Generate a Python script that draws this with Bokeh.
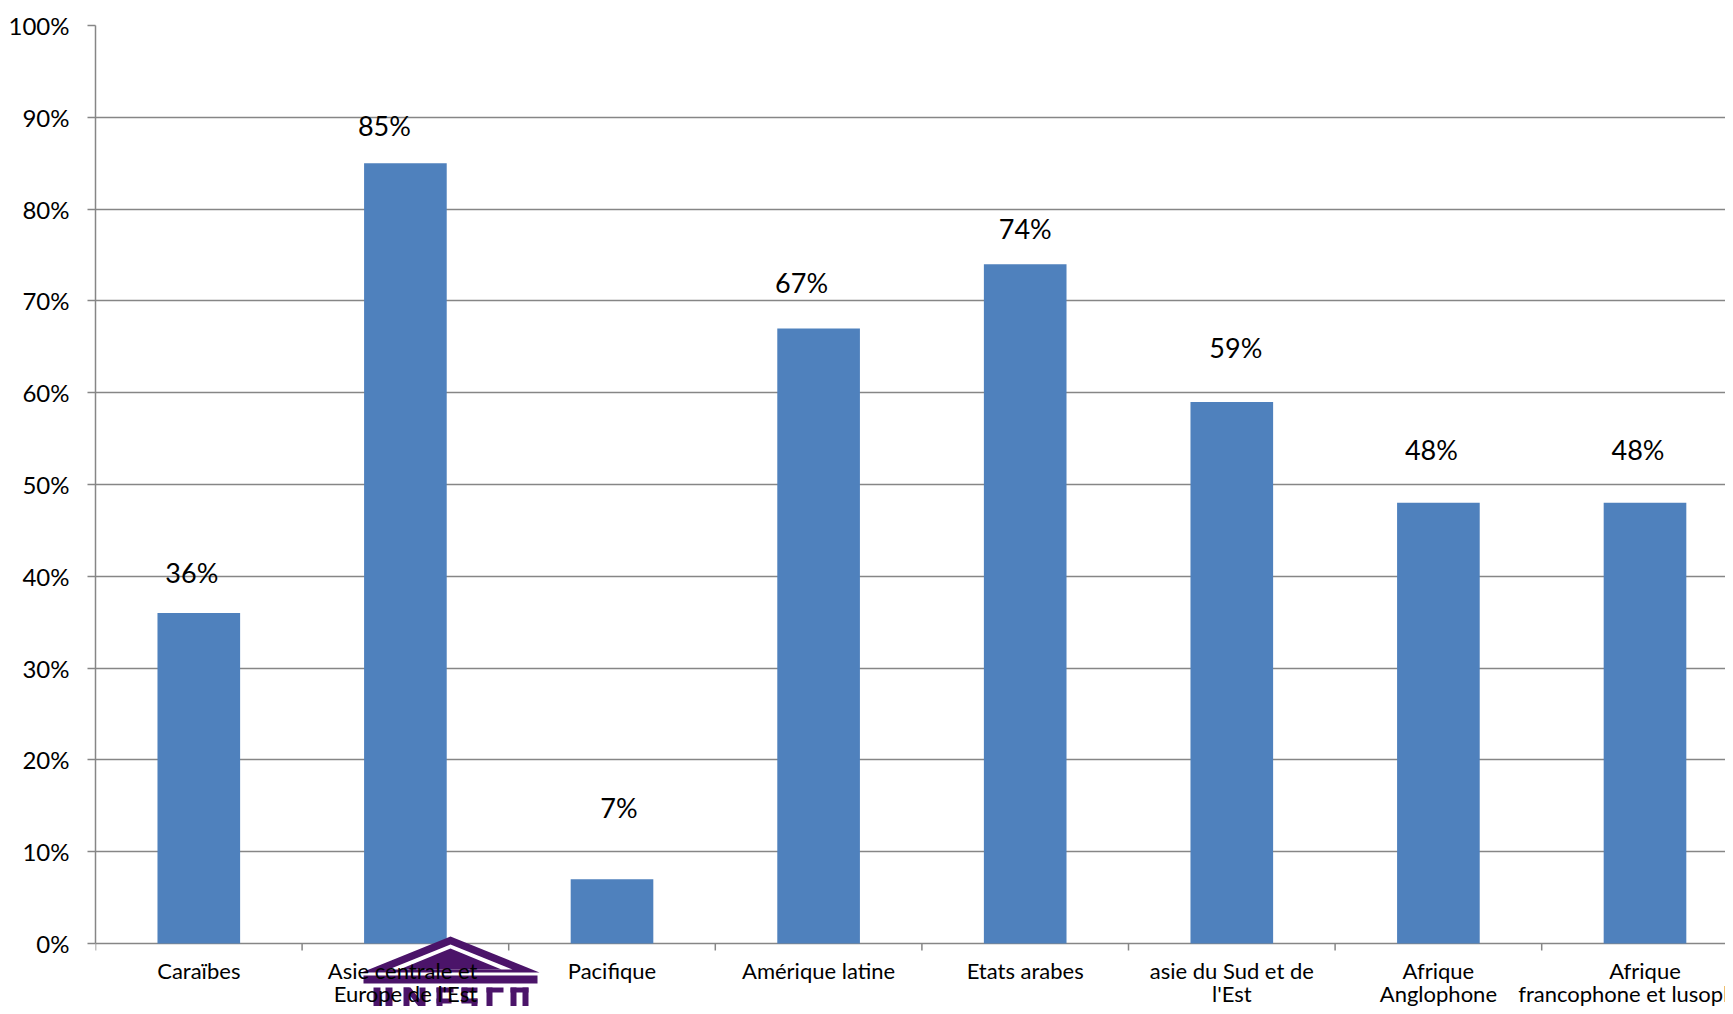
from bokeh.plotting import figure
from bokeh.models import Range1d, FixedTicker, PrintfTickFormatter, ColumnDataSource
from bokeh.core.properties import value
from bokeh.embed import file_html
from bokeh.resources import INLINE

categories = ["Caraïbes", "Asie centrale  et\nEurope de l'Est", "Pacifique", "Amérique latine",
              "Etats arabes", "asie du Sud et de\nl'Est", "Afrique\nAnglophone",
              "Afrique\nfrancophone et lusophone"]
values = [36, 85, 7, 67, 74, 59, 48, 48]
value_labels = ["36%", "85%", "7%", "67%", "74%", "59%", "48%", "48%"]
y_ticks = [0, 10, 20, 30, 40, 50, 60, 70, 80, 90, 100]

# data-label nudges (pixels) as placed in the original
label_dx = [-7, -21, 7, -17, 0, 4, -7, -7]
label_dy = [41, 38, 72, 46, 36, 54, 53, 53]

# ---- layout (pixels) ----
W, H = 1725, 1006
LEFT, TOP = 95, 25
PLOT_H = 918            # height of 0..100 %
CAT_W = 206.6           # width of one category
PX = PLOT_H / 100.0     # pixels per percentage point
Y_MIN = -(H - TOP - PLOT_H) / PX

GRID = "#868686"
FONT = "Lato"
LOGO = "#4B1469"

xs = [i + 0.5 for i in range(len(categories))]
bounds = list(range(len(categories) + 1))

src = ColumnDataSource(dict(x=xs, top=values, lab=value_labels,
                            dx=label_dx, dy=[-d for d in label_dy]))

p = figure(width=W, height=H, output_backend="svg", toolbar_location=None,
           x_range=Range1d(0, (W - LEFT) / CAT_W), y_range=Range1d(Y_MIN, 100))
p.min_border_left = LEFT
p.min_border_right = 0
p.min_border_top = TOP
p.min_border_bottom = 0
p.outline_line_color = None
p.background_fill_color = "white"
p.border_fill_color = "white"

p.vbar(x="x", top="top", width=0.4, bottom=0, source=src, fill_color="#4F81BD", line_color=None)

# category tick marks (at category boundaries, below the 0 line)
p.segment(x0=bounds, y0=[0] * len(bounds), x1=bounds, y1=[-7 / PX] * len(bounds),
          line_color=GRID, line_width=1.5)


# ---- UNESCO logo watermark (decoration, given in pixels) ----
def to_data(pts):
    return ([(x - LEFT) / CAT_W for x, _ in pts], [(TOP + PLOT_H - y) / PX for _, y in pts])


def rect(x0, y0, x1, y1):
    return [(x0, y0), (x1, y0), (x1, y1), (x0, y1)]


logo_dark = [
    [(361, 972), (450, 936), (539, 972)],
    rect(363, 975, 537, 983),
    # U
    rect(373, 987, 380, 1010), rect(385, 987, 392, 1010),
    # N
    rect(403, 987, 409, 1010), rect(419, 987, 425, 1010),
    [(403, 987), (410, 987), (425, 1006), (418, 1006)],
    # E
    rect(436, 987, 442, 1010), rect(436, 987, 453, 992), rect(436, 998, 451, 1003),
    # S
    rect(461, 987, 477, 992), rect(461, 987, 467, 1002), rect(461, 998, 477, 1003),
    rect(471, 998, 477, 1010),
    # C
    rect(486, 987, 492, 1010), rect(486, 987, 503, 992),
    # O
    rect(510, 987, 516, 1010), rect(522, 987, 528, 1010), rect(510, 987, 528, 992),
]
logo_light = [[(388, 969), (450, 944), (512, 969)]]
logo_inner = [[(399, 969), (450, 948), (501, 969)]]

for group, col in ((logo_dark, LOGO), (logo_light, "white"), (logo_inner, LOGO)):
    lx, ly = zip(*[to_data(poly) for poly in group])
    p.patches(xs=list(lx), ys=list(ly), fill_color=col, line_color=None)

p.text(x="x", y="top", text="lab", source=src, x_offset="dx", y_offset="dy",
       text_align="center", text_baseline="middle", text_font=value(FONT),
       text_font_size="27px", text_color="#000000")

# category names (two lines under the axis)
LINE1, LINE2 = 27, 49.5   # baselines below the 0 line, px
line1 = [c.split("\n")[0] for c in categories]
line2 = [c.split("\n")[1] if "\n" in c else "" for c in categories]
for lines, off in ((line1, LINE1), (line2, LINE2)):
    p.text(x=xs, y=[-off / PX] * len(xs), text=lines, text_align="center",
           text_baseline="alphabetic", text_font=value(FONT), text_font_size="22px",
           text_color="#000000")

# y axis
yax = p.yaxis[0]
yax.ticker = FixedTicker(ticks=y_ticks)
yax.bounds = (0, 100)
yax.formatter = PrintfTickFormatter(format="%d%%")
yax.axis_line_color = GRID
yax.axis_line_width = 1.5
yax.major_tick_line_color = GRID
yax.major_tick_line_width = 1.5
yax.major_tick_out = 8
yax.major_tick_in = 0
yax.minor_tick_line_color = None
yax.major_label_standoff = 18
yax.major_label_text_font = FONT
yax.major_label_text_font_size = "24px"
yax.major_label_text_color = "#000000"

p.xaxis.visible = False
p.xgrid.visible = False
p.ygrid[0].ticker = FixedTicker(ticks=y_ticks)
p.ygrid.grid_line_color = GRID
p.ygrid.grid_line_width = 1.5

open("out.html", "w").write(file_html(p, INLINE))
